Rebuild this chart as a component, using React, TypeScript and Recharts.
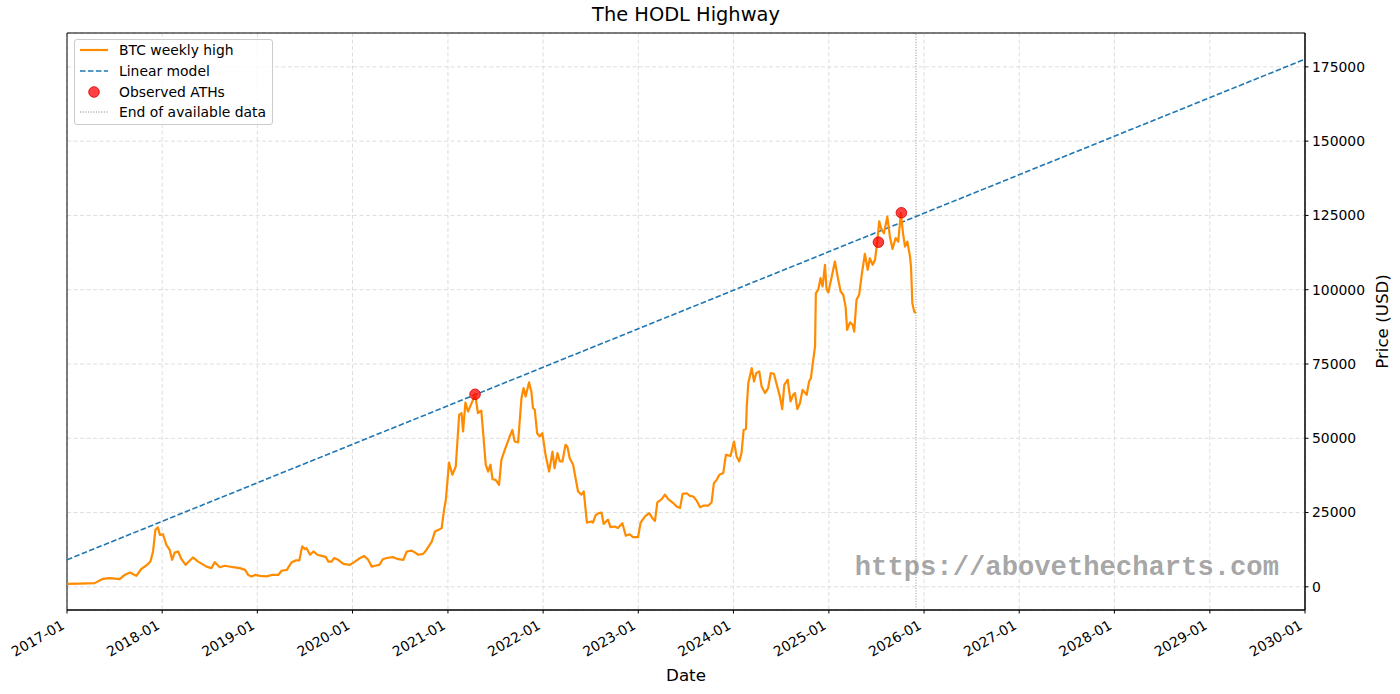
import React from 'react';
import {
  ComposedChart,
  Line,
  Scatter,
  XAxis,
  YAxis,
  CartesianGrid,
  ReferenceLine,
  ReferenceArea,
  Legend,
} from 'recharts';

// ---------- DATA ----------
// BTC weekly high (date, USD)
const btcWeeklyHigh: [string, number][] = [
  ['2017-01-02', 1000], ['2017-02-19', 1100], ['2017-04-17', 1250], ['2017-05-19', 2700],
  ['2017-06-14', 2900], ['2017-07-22', 2600], ['2017-08-10', 4000], ['2017-08-30', 4800],
  ['2017-09-24', 3700], ['2017-10-13', 6000], ['2017-11-04', 7400], ['2017-11-17', 8500],
  ['2017-11-27', 11900], ['2017-12-06', 19200], ['2017-12-16', 20000], ['2017-12-23', 17500],
  ['2018-01-04', 17700], ['2018-01-17', 14100], ['2018-01-30', 12400], ['2018-02-08', 9100],
  ['2018-02-18', 11500], ['2018-03-03', 11900], ['2018-03-16', 9300], ['2018-04-01', 7400],
  ['2018-04-29', 9900], ['2018-05-19', 8500], ['2018-06-20', 6800], ['2018-07-09', 6300],
  ['2018-07-22', 8300], ['2018-08-10', 6600], ['2018-08-29', 7100], ['2018-09-30', 6600],
  ['2018-10-26', 6300], ['2018-11-15', 5700], ['2018-11-27', 4000], ['2018-12-10', 3500],
  ['2018-12-23', 4000], ['2019-01-11', 3700], ['2019-02-06', 3500], ['2019-02-25', 4000],
  ['2019-03-22', 4000], ['2019-04-04', 5400], ['2019-04-24', 5700], ['2019-05-13', 8300],
  ['2019-05-29', 8900], ['2019-06-11', 8900], ['2019-06-22', 13600], ['2019-07-03', 12700],
  ['2019-07-09', 13000], ['2019-07-22', 10800], ['2019-08-04', 11900], ['2019-08-19', 10800],
  ['2019-09-05', 10400], ['2019-09-21', 10000], ['2019-09-30', 8500], ['2019-10-13', 8500],
  ['2019-10-23', 9700], ['2019-11-07', 9100], ['2019-11-27', 7700], ['2019-12-22', 7400],
  ['2020-01-10', 8500], ['2020-01-30', 9700], ['2020-02-15', 10400], ['2020-03-01', 9100],
  ['2020-03-15', 6800], ['2020-03-27', 7100], ['2020-04-13', 7400], ['2020-04-26', 9300],
  ['2020-05-11', 9700], ['2020-06-03', 10000], ['2020-06-25', 9300], ['2020-07-14', 9100],
  ['2020-07-27', 11900], ['2020-08-15', 12200], ['2020-08-28', 11500], ['2020-09-09', 10800],
  ['2020-09-28', 11100], ['2020-10-11', 12500], ['2020-10-31', 15200], ['2020-11-12', 18600],
  ['2020-12-01', 19400], ['2020-12-08', 19800], ['2020-12-17', 25900], ['2020-12-24', 29300],
  ['2021-01-05', 41800], ['2021-01-18', 37700], ['2021-01-31', 40500], ['2021-02-13', 57900],
  ['2021-02-22', 58500], ['2021-02-28', 52300], ['2021-03-09', 62000], ['2021-03-19', 59000],
  ['2021-04-07', 62900], ['2021-04-15', 65000], ['2021-04-26', 58500], ['2021-05-09', 59300],
  ['2021-05-26', 41100], ['2021-06-04', 38800], ['2021-06-13', 41100], ['2021-06-21', 36200],
  ['2021-07-03', 36000], ['2021-07-16', 34300], ['2021-07-25', 42700], ['2021-08-07', 46100],
  ['2021-08-26', 50600], ['2021-09-05', 52800], ['2021-09-14', 48900], ['2021-09-27', 48600],
  ['2021-10-10', 63500], ['2021-10-18', 66900], ['2021-10-26', 64100], ['2021-11-08', 68800],
  ['2021-11-17', 65700], ['2021-11-23', 60200], ['2021-11-30', 59600], ['2021-12-09', 51700],
  ['2021-12-19', 50600], ['2021-12-29', 51700], ['2022-01-11', 44100], ['2022-01-24', 38800],
  ['2022-02-06', 45500], ['2022-02-14', 39900], ['2022-02-25', 45000], ['2022-03-06', 42200],
  ['2022-03-16', 42200], ['2022-03-28', 47800], ['2022-04-04', 47200], ['2022-04-13', 43300],
  ['2022-04-26', 41100], ['2022-05-15', 32100], ['2022-05-28', 31000], ['2022-06-06', 32100],
  ['2022-06-18', 21600], ['2022-07-05', 22000], ['2022-07-11', 21600], ['2022-07-22', 24200],
  ['2022-08-03', 24800], ['2022-08-13', 25000], ['2022-08-21', 21200], ['2022-09-07', 22600],
  ['2022-09-16', 20100], ['2022-10-03', 20300], ['2022-10-15', 19800], ['2022-11-01', 21400],
  ['2022-11-14', 17200], ['2022-11-29', 17700], ['2022-12-12', 16700], ['2022-12-31', 16700],
  ['2023-01-10', 21600], ['2023-01-27', 23700], ['2023-02-12', 24800], ['2023-02-24', 23100],
  ['2023-03-06', 22200], ['2023-03-15', 28400], ['2023-04-01', 29500], ['2023-04-13', 31000],
  ['2023-04-26', 29500], ['2023-05-15', 28200], ['2023-05-28', 27000], ['2023-06-10', 26500],
  ['2023-06-20', 31300], ['2023-07-06', 31500], ['2023-07-18', 30600], ['2023-07-31', 30400],
  ['2023-08-13', 29000], ['2023-08-26', 26800], ['2023-09-07', 27300], ['2023-09-26', 27300],
  ['2023-10-09', 28400], ['2023-10-18', 34900], ['2023-10-29', 36000], ['2023-11-08', 37700],
  ['2023-11-23', 38300], ['2023-12-03', 44400], ['2023-12-21', 44100], ['2024-01-03', 48900],
  ['2024-01-13', 43900], ['2024-01-23', 42200], ['2024-02-01', 45000], ['2024-02-09', 52800],
  ['2024-02-18', 53100], ['2024-02-21', 60700], ['2024-02-27', 68600], ['2024-03-11', 73600],
  ['2024-03-20', 69100], ['2024-03-28', 71900], ['2024-04-09', 72500], ['2024-04-18', 67400],
  ['2024-05-01', 65200], ['2024-05-13', 66900], ['2024-05-23', 71900], ['2024-06-04', 71700],
  ['2024-06-17', 67400], ['2024-06-27', 64100], ['2024-07-06', 59800], ['2024-07-14', 68000],
  ['2024-07-27', 69700], ['2024-08-07', 62400], ['2024-08-17', 64600], ['2024-08-24', 65200],
  ['2024-09-02', 59800], ['2024-09-12', 61800], ['2024-09-22', 66300], ['2024-10-08', 64600],
  ['2024-10-17', 69100], ['2024-10-24', 70200], ['2024-11-02', 76400], ['2024-11-09', 81000],
  ['2024-11-12', 98800], ['2024-11-21', 100000], ['2024-11-30', 103900], ['2024-12-08', 101100],
  ['2024-12-17', 108400], ['2024-12-23', 100200], ['2024-12-30', 99100], ['2025-01-12', 104400],
  ['2025-01-24', 109500], ['2025-02-06', 103300], ['2025-02-15', 99400], ['2025-02-25', 98300],
  ['2025-03-06', 94300], ['2025-03-12', 86500], ['2025-03-23', 89000], ['2025-04-02', 88200],
  ['2025-04-08', 85900], ['2025-04-17', 96600], ['2025-04-27', 98300], ['2025-05-07', 105000],
  ['2025-05-19', 112100], ['2025-05-30', 106700], ['2025-06-07', 110600], ['2025-06-18', 108400],
  ['2025-06-27', 110100], ['2025-07-05', 115700], ['2025-07-13', 123000], ['2025-07-22', 120200],
  ['2025-07-31', 119000], ['2025-08-13', 124600], ['2025-08-23', 117900], ['2025-09-02', 113700],
  ['2025-09-14', 117400], ['2025-09-24', 116200], ['2025-10-04', 125800], ['2025-10-13', 118500],
  ['2025-10-20', 114500], ['2025-10-29', 116200], ['2025-11-08', 111200], ['2025-11-12', 107800],
  ['2025-11-17', 95500], ['2025-11-24', 92700], ['2025-12-01', 92100],
];

// Observed all-time highs
const athDates = ['2021-04-15', '2025-07-10', '2025-10-06'];
const athValues = [64800, 116000, 125900];

// Linear model end points
const modelDates = ['2017-01-01', '2030-01-01'];
const modelValues = [9100, 177600];

const endOfDataDate = '2025-12-01';

const xTickLabels = [
  '2017-01', '2018-01', '2019-01', '2020-01', '2021-01', '2022-01', '2023-01',
  '2024-01', '2025-01', '2026-01', '2027-01', '2028-01', '2029-01', '2030-01',
];
const yTicks = [0, 25000, 50000, 75000, 100000, 125000, 150000, 175000];
const yDomain = [-7800, 186400];

// ---------- HELPERS ----------
const toTs = (s: string) => Date.parse(s.length === 7 ? s + '-01T00:00:00Z' : s + 'T00:00:00Z');

const btcData = btcWeeklyHigh.map(([d, v]) => ({ t: toTs(d), v }));
const athData = athDates.map((d, i) => ({ t: toTs(d), v: athValues[i] }));
const modelData = modelDates.map((d, i) => ({ t: toTs(d), v: modelValues[i] }));
const xTicks = xTickLabels.map(toTs);
const xDomain = [xTicks[0], xTicks[xTicks.length - 1]];
const endTs = toTs(endOfDataDate);

const FONT = '"DejaVu Sans", sans-serif';
const ORANGE = '#ff8c00';
const BLUE = '#1f77b4';

const XTick = (props: any) => {
  const { x, y, payload } = props;
  const d = new Date(payload.value);
  const label = `${d.getUTCFullYear()}-${String(d.getUTCMonth() + 1).padStart(2, '0')}`;
  const ax = x - 1.6;
  const ay = y + 11;
  return (
    <text
      x={ax}
      y={ay}
      transform={`rotate(-30, ${ax}, ${ay})`}
      textAnchor="end"
      fontFamily={FONT}
      fontSize={13.9}
      fill="#000"
    >
      {label}
    </text>
  );
};

const LegendBox = () => {
  const rows = [
    { label: 'BTC weekly high', kind: 'line' },
    { label: 'Linear model', kind: 'dash' },
    { label: 'Observed ATHs', kind: 'dot' },
    { label: 'End of available data', kind: 'dotted' },
  ];
  return (
    <div
      style={{
        position: 'relative',
        width: 197,
        height: 84,
        border: '1px solid #cccccc',
        borderRadius: 3,
        background: 'rgba(255,255,255,0.8)',
        fontFamily: FONT,
        fontSize: 13.9,
        color: '#000',
      }}
    >
      {rows.map((r, i) => {
        const cy = 10 + i * 20.8;
        return (
          <div key={r.label} style={{ position: 'absolute', left: 0, top: cy - 10, height: 20, width: 197 }}>
            <svg width={40} height={20} style={{ position: 'absolute', left: 0, top: 0 }}>
              {r.kind === 'line' && <line x1={5} x2={33} y1={10} y2={10} stroke={ORANGE} strokeWidth={2.2} />}
              {r.kind === 'dash' && (
                <line x1={5} x2={33} y1={10} y2={10} stroke={BLUE} strokeWidth={1.6} strokeDasharray="5.55 2.4" />
              )}
              {r.kind === 'dot' && (
                <circle cx={19} cy={10} r={5.3} fill="rgba(255,0,0,0.75)" stroke="rgba(210,0,0,0.8)" strokeWidth={1} />
              )}
              {r.kind === 'dotted' && (
                <line x1={5} x2={33} y1={10} y2={10} stroke="#808080" strokeWidth={1} strokeDasharray="1 1.65" />
              )}
            </svg>
            <span style={{ position: 'absolute', left: 44, top: 0, lineHeight: '20px', whiteSpace: 'nowrap' }}>
              {r.label}
            </span>
          </div>
        );
      })}
    </div>
  );
};

const YLabel = (props: any) => {
  const vb = props.viewBox || {};
  const cx = (vb.x ?? 1305) + 77;
  const cy = (vb.y ?? 33) + (vb.height ?? 577) / 2;
  return (
    <text
      x={cx}
      y={cy}
      transform={`rotate(-90, ${cx}, ${cy})`}
      textAnchor="middle"
      dominantBaseline="central"
      fontFamily={FONT}
      fontSize={16.7}
      fill="#000"
    >
      Price (USD)
    </text>
  );
};

const XLabel = (props: any) => {
  const vb = props.viewBox || {};
  const cx = (vb.x ?? 67) + (vb.width ?? 1238) / 2;
  const by = (vb.y ?? 610) + 71;
  return (
    <text x={cx} y={by} textAnchor="middle" fontFamily={FONT} fontSize={16.7} fill="#000">
      Date
    </text>
  );
};

export default function App() {
  return (
    <div style={{ position: 'absolute', left: 0, top: 0, width: 1400, height: 694, background: '#fff' }}>
      <div
        style={{
          position: 'absolute',
          left: 67,
          width: 1238,
          top: 4,
          textAlign: 'center',
          fontFamily: FONT,
          fontSize: 19.4,
          color: '#000',
          lineHeight: '22.6px',
          whiteSpace: 'nowrap',
        }}
      >
        The HODL Highway
      </div>
      <ComposedChart width={1400} height={694} margin={{ top: 33, right: 0, bottom: 0, left: 67 }}>
        <CartesianGrid stroke="#dedede" strokeDasharray="4 2.5" horizontal={true} vertical={true} />
        <XAxis
          dataKey="t"
          type="number"
          domain={xDomain}
          allowDataOverflow
          ticks={xTicks}
          interval={0}
          height={84}
          tickSize={3.5}
          tickMargin={3.5}
          tick={<XTick />}
          tickLine={{ stroke: '#000' }}
          axisLine={{ stroke: '#000' }}
          label={<XLabel />}
        />
        <YAxis
          orientation="right"
          type="number"
          domain={yDomain}
          allowDataOverflow
          ticks={yTicks}
          interval={0}
          width={95}
          tickSize={3.5}
          tickMargin={3.5}
          tick={{ fill: '#000', fontSize: 13.9, fontFamily: FONT }}
          tickLine={{ stroke: '#000' }}
          axisLine={{ stroke: '#000' }}
          label={<YLabel />}
        />
        <ReferenceArea
          x1={xDomain[0]}
          x2={xDomain[1]}
          y1={yDomain[0]}
          y2={yDomain[1]}
          fill="none"
          fillOpacity={0}
          stroke="#000"
          strokeWidth={1}
          ifOverflow="visible"
        />
        <ReferenceLine x={endTs} stroke="#8a8a8a" strokeWidth={1} strokeDasharray="1 1.65" />
        <Line
          data={modelData}
          dataKey="v"
          type="linear"
          stroke={BLUE}
          strokeWidth={1.6}
          strokeDasharray="5.55 2.4"
          dot={false}
          activeDot={false}
          isAnimationActive={false}
          name="Linear model"
        />
        <Line
          data={btcData}
          dataKey="v"
          type="linear"
          stroke={ORANGE}
          strokeWidth={2.2}
          strokeLinejoin="round"
          dot={false}
          activeDot={false}
          isAnimationActive={false}
          name="BTC weekly high"
        />
        <Scatter
          data={athData}
          dataKey="v"
          isAnimationActive={false}
          name="Observed ATHs"
          shape={(p: any) => (
            <circle cx={p.cx} cy={p.cy} r={5.3} fill="rgba(255,0,0,0.75)" stroke="rgba(210,0,0,0.8)" strokeWidth={1} />
          )}
        />
        <Legend
          layout="vertical"
          verticalAlign="middle"
          align="center"
          wrapperStyle={{ left: 74, top: 39, width: 199 }}
          content={() => <LegendBox />}
        />
      </ComposedChart>
      <div
        style={{
          position: 'absolute',
          right: 1400 - 1279,
          top: 553,
          fontFamily: '"Liberation Mono", "DejaVu Sans Mono", monospace',
          fontWeight: 'bold',
          fontSize: 27.2,
          lineHeight: '30px',
          color: 'rgba(128,128,128,0.7)',
          whiteSpace: 'nowrap',
        }}
      >
        https://abovethecharts.com
      </div>
    </div>
  );
}
